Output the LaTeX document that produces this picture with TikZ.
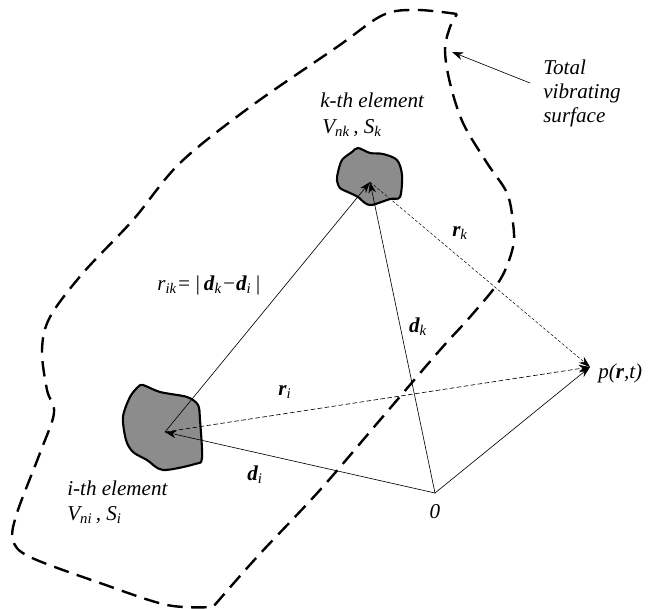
\documentclass[tikz,border=0pt]{standalone}
\usepackage{fontspec}
\setmainfont{Liberation Serif}
\usetikzlibrary{arrows.meta}
\definecolor{blobgray}{RGB}{140,140,140}
\newcommand{\bv}[1]{\textbf{\textit{#1}}}
\newcommand{\sbs}[1]{\textsubscript{\textit{#1}}}
\begin{document}
\begin{tikzpicture}[x=0.025cm,y=-0.025cm,>={Stealth[length=8pt,width=5.5pt]},
	font=\fontsize{15}{17}\selectfont\itshape, line join=round, line cap=round,
	vec/.style={->,line width=0.45pt},
	blob/.style={fill=blobgray,line width=1.5pt},
	surf/.style={line width=1.7pt,line cap=butt,dash pattern=on 11pt off 6pt},
	lbl/.style={inner sep=0pt}]
	\useasboundingbox (0,0) rectangle (652,609);
	% vibrating surface
	\draw[surf] plot[smooth,tension=0.55] coordinates {(457,14) (417,10) (383,15) (337,47) (250,107) (180,163) (133,220) (83,273) (50,317) (42,350) (47,390) (54,413) (40,453) (17,513) (13,540) (30,557) (100,583) (167,605) (213,607)}
		-- plot[smooth,tension=0.55] coordinates {(213,607) (257,557) (320,490) (380,420) (440,350) (470,317) (500,280) (513,247) (513,223) (507,193) (487,163) (463,123) (450,83) (445,50) (450,27) (457,14)} -- cycle;
	% elements
	\draw[blob] plot[smooth cycle,tension=0.5] coordinates {(143,385) (160,392) (187,397) (198,405) (200,420) (202,458) (195,464) (163,470) (147,460) (133,452) (126,440) (123,417) (130,397) (138,387)};
	\draw[blob] plot[smooth cycle,tension=0.5] coordinates {(338,172) (342,160) (352,152) (358,148) (370,153) (383,154) (397,160) (402,175) (400,197) (390,199) (372,205) (365,203) (358,197) (350,193) (340,188) (337,180)};
	\coordinate (O) at (435,493);
	\coordinate (Ei) at (165,432);
	\coordinate (Ek) at (370,182);
	\coordinate (P) at (590,367);
	\coordinate (tvstip) at (452,52);
	\coordinate (tvstail) at (530,83);
	% vectors
	\draw[vec] (O)--(Ei);
	\draw[vec] (O)--(Ek);
	\draw[vec] (O)--(P);
	\draw[vec] (Ei)--(Ek);
	\draw[vec,dash pattern=on 3pt off 2pt] (Ei)--(P);
	\draw[vec,line width=0.35pt,dash pattern=on 2pt off 1.5pt] (Ek)--(P);
	\draw[vec] (tvstail)--(tvstip);
	% labels
	\node[lbl,anchor=west] (kel) at (320,100) {k-th element};
	\node[lbl,anchor=west] (kvs) at (322,128) {V\sbs{nk}\,, S\sbs{k}};
	\node[lbl,anchor=west] (iel) at (67,488) {i-th element};
	\node[lbl,anchor=west] (ivs) at (67,515) {V\sbs{ni}\,, S\sbs{i}};
	\node[lbl] (rik) at (209,285) {r\sbs{ik}=\,|\,\bv{d}\sbs{k}−\bv{d}\sbs{i}\,|};
	\node[lbl] (rk) at (460,233) {\bv{r}\sbs{k}};
	\node[lbl] (dk) at (418,327) {\bv{d}\sbs{k}};
	\node[lbl] (ri) at (285,392) {\bv{r}\sbs{i}};
	\node[lbl] (di) at (255,475) {\bv{d}\sbs{i}};
	\node[lbl] (zero) at (435,512) {0};
	\node[lbl,anchor=west] (prt) at (598,373) {p(\bv{r},t)};
	\node[lbl,anchor=north west,align=left] (tvs) at (543,60) {Total\\vibrating\\surface};
\end{tikzpicture}
\end{document}
